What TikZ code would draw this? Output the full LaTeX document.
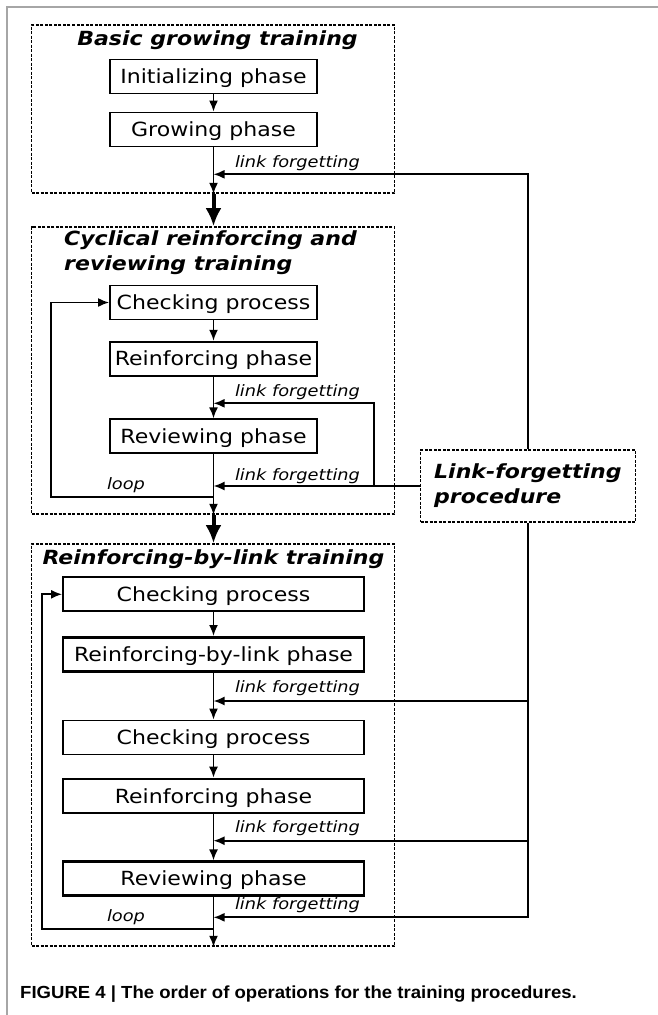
\documentclass[tikz,border=0pt]{standalone}
\usepackage{fontspec}
\setmainfont{DejaVu Sans}[FakeStretch=1.13,
  ItalicFont={DejaVu Sans Oblique},
  BoldFont={DejaVu Sans Bold},
  BoldItalicFont={DejaVu Sans Bold Oblique}]
\newfontfamily\capfont{Liberation Sans}[FakeStretch=1.06]
\usetikzlibrary{arrows.meta}

\tikzset{
  phase/.style={draw, line width=1.8pt, minimum width=207pt, minimum height=34pt,
    inner sep=0pt, text height=14pt, text depth=0pt,
    font=\fontsize{19.5}{22}\selectfont},
  widephase/.style={phase, minimum width=301pt},
  heavyphase/.style={widephase, line width=2.6pt},
  stage/.style={draw, dashed, dash pattern=on 3pt off 1.5pt, line width=1.7pt,
    inner sep=0pt},
  stagetitle/.style={inner sep=0pt, font=\fontsize{19.5}{25}\selectfont\bfseries\itshape},
  lflabel/.style={inner sep=0pt, font=\fontsize{15.7}{18}\selectfont\itshape},
  flow/.style={line width=1.8pt, -{Latex[length=11pt,width=9pt]}},
  bigflow/.style={line width=4pt, -{Latex[length=18pt,width=16pt]}}
}

\begin{document}
\begin{tikzpicture}[x=1pt, y=-1pt]
		\useasboundingbox (0,0) rectangle (658,1015);
		%%%%% FRAME %%%%%
		\draw[gray!70, line width=1.5pt] (7,1015) -- (7,7) -- (658,7);
		
		%%%%% STAGES %%%%%
		\node[stage, minimum width=363pt, minimum height=168pt] (basic) at (213,109) {};
		\node[stage, minimum width=363pt, minimum height=287pt] (cyclic) at (213,370.5) {};
		\node[stage, minimum width=363pt, minimum height=402pt] (bylink) at (213,745) {};
		\node[stage, minimum width=215pt, minimum height=72pt] (lfproc) at (528,486) {};
		
		\node[stagetitle] (basictitle) at (217.5,40) {Basic growing training};
		\node[stagetitle, align=left, anchor=west] (cyclictitle) at (64,252.5) {Cyclical reinforcing and\\reviewing training};
		\node[stagetitle] (bylinktitle) at (213.5,559) {Reinforcing-by-link training};
		\node[stagetitle, align=left, anchor=west] (lfproctitle) at (434,486) {Link-forgetting\\procedure};
		
		%%%%% PHASES %%%%%
		\node[phase] (init) at (213.5,76.5) {Initializing phase};
		\node[phase] (grow) at (213.5,129.5) {Growing phase};
		
		\node[phase] (check1) at (213.5,302.5) {Checking process};
		\node[phase] (reinf1) at (213.5,358.7) {Reinforcing phase};
		\node[phase] (review1) at (213.5,436.3) {Reviewing phase};
		
		\node[widephase] (check2) at (213.5,594.3) {Checking process};
		\node[heavyphase] (rbl) at (213.5,654.3) {Reinforcing-by-link phase};
		\node[widephase] (check3) at (213.5,737.5) {Checking process};
		\node[heavyphase] (reinf2) at (213.5,796) {Reinforcing phase};
		\node[heavyphase] (review2) at (213.5,878.7) {Reviewing phase};
		
		%%%%% JOINS %%%%%
		\coordinate (j1) at (213.5,174.3);
		\coordinate (j2) at (213.5,403.3);
		\coordinate (j3) at (213.5,486);
		\coordinate (j4) at (213.5,701);
		\coordinate (j5) at (213.5,840.7);
		\coordinate (j6) at (213.5,917.3);
		\coordinate (fork) at (374,486);
		\coordinate (loop1) at (213.5,497.3);
		\coordinate (loop2) at (213.5,929);
		
		%%%%% MAIN FLOW %%%%%
		\draw[flow] (init) -- (grow);
		\draw[flow] (grow) -- (basic.south -| grow);
		\draw[bigflow] (basic.south -| grow) -- (cyclic.north -| grow);
		
		\draw[flow] (check1) -- (reinf1);
		\draw[flow] (reinf1) -- (review1);
		\draw[flow] (review1) -- (cyclic.south -| review1);
		\draw[bigflow] (cyclic.south -| review1) -- (bylink.north -| review1);
		
		\draw[flow] (check2) -- (rbl);
		\draw[flow] (rbl) -- (check3);
		\draw[flow] (check3) -- (reinf2);
		\draw[flow] (reinf2) -- (review2);
		\draw[flow] (review2) -- (bylink.south -| review2);
		
		%%%%% LOOPS %%%%%
		\draw[flow] (loop1) -- ++(-162.5,0) |- (check1.west);
		\draw[flow] (loop2) -- ++(-171.5,0) |- (check2.west);
		\node[lflabel] (looplabel1) at (126,485) {loop};
		\node[lflabel] (looplabel2) at (126,917) {loop};
		
		%%%%% LINK FORGETTING %%%%%
		\draw[flow] (lfproc.north) |- (j1);
		\draw[flow] (lfproc.west) -- (j3);
		\draw[flow] (fork) |- (j2);
		\draw[flow] (lfproc.south) |- (j6);
		\draw[flow] (lfproc.south |- j4) -- (j4);
		\draw[flow] (lfproc.south |- j5) -- (j5);
		
		\node[lflabel] (lf1) at (297.5,163) {link forgetting};
		\node[lflabel] (lf2) at (297.5,391.7) {link forgetting};
		\node[lflabel] (lf3) at (297.5,476) {link forgetting};
		\node[lflabel] (lf4) at (297.5,688) {link forgetting};
		\node[lflabel] (lf5) at (297.5,828) {link forgetting};
		\node[lflabel] (lf6) at (297.5,905) {link forgetting};
		
		%%%%% CAPTION %%%%%
		\node[anchor=west, inner sep=0pt, font=\capfont\bfseries\fontsize{17.5}{19}\selectfont] (caption) at (20,994) {FIGURE 4 | The order of operations for the training procedures.};
	\end{tikzpicture}
\end{document}
